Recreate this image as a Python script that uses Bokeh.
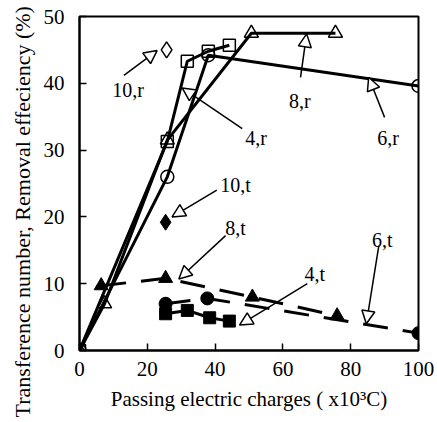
from bokeh.plotting import figure
from bokeh.models import Arrow, NormalHead, Title, LabelSet, FixedTicker, ColumnDataSource, Range1d
from bokeh.embed import file_html
from bokeh.resources import INLINE

# Removal efficiency (open markers)
r4_x = [0, 25.9, 31.8, 38.0, 44.2]
r4_y = [0, 31.3, 43.3, 44.8, 45.7]
r6_x = [0, 25.9, 38.0, 100]
r6_y = [0, 26.0, 44.2, 39.6]
r8_x = [0, 7.4, 25.9, 50.7, 75.5]
r8_y = [0, 7.0, 31.5, 47.5, 47.5]
r10_x = [25.7]
r10_y = [45.0]

# Transference number (filled markers)
t4_x = [25.4, 31.8, 38.4, 44.2]
t4_y = [5.5, 6.0, 4.9, 4.4]
t6_x = [25.4, 37.7, 100]
t6_y = [7.0, 7.8, 2.6]
t8_x = [6.4, 25.4, 51.0, 76.0]
t8_y = [9.7, 10.8, 8.0, 5.2]
t10_x = [25.4]
t10_y = [19.2]

# Annotation labels and arrows
ann_text = ["10,r", "4,r", "8,r", "6,r", "10,t", "8,t", "4,t", "6,t"]
ann_x = [14.3, 52.1, 65.0, 91.0, 46.0, 46.0, 69.4, 89.3]
ann_y = [39.0, 31.8, 37.4, 31.8, 24.8, 18.3, 11.5, 16.6]
arr_x0 = [13.1, 48.0, 65.2, 90.0, 40.5, 43.1, 67.2, 88.3]
arr_y0 = [41.2, 33.2, 40.9, 34.9, 24.0, 17.2, 10.0, 15.7]
arr_x1 = [22.9, 30.3, 67.0, 85.3, 27.3, 29.3, 47.2, 84.6]
arr_y1 = [44.9, 39.3, 47.4, 40.9, 20.0, 10.7, 3.8, 4.0]

x_ticks = [0, 20, 40, 60, 80, 100]
y_ticks = [0, 10, 20, 30, 40, 50]

FONT = "Liberation Serif"

p = figure(width=437, height=422, output_backend="svg", toolbar_location=None,
           x_range=Range1d(0, 100), y_range=Range1d(0, 50),
           min_border_left=79, min_border_right=19, min_border_top=16, min_border_bottom=72)
p.background_fill_color = "white"
p.border_fill_color = "white"
p.outline_line_color = "black"
p.outline_line_width = 2
p.xgrid.visible = False
p.ygrid.visible = False

for ax in (p.xaxis, p.yaxis):
    ax.axis_line_width = 2
    ax.axis_line_color = "black"
    ax.major_tick_in = 7
    ax.major_tick_out = 0
    ax.major_tick_line_width = 1.5
    ax.minor_tick_line_color = None
    ax.major_label_text_font = FONT
    ax.major_label_text_font_size = "21px"
    ax.major_label_text_color = "black"
    ax.axis_label_text_font = FONT
    ax.axis_label_text_font_size = "21px"
    ax.axis_label_text_font_style = "normal"
    ax.axis_label_text_color = "black"

p.xaxis.ticker = FixedTicker(ticks=x_ticks)
p.yaxis.ticker = FixedTicker(ticks=y_ticks)
p.xaxis.major_label_standoff = 11
p.yaxis.major_label_standoff = 15
p.xaxis.axis_label = "Passing electric charges ( x10\u00b3C)"
p.xaxis.axis_label_standoff = 8

ytitle = Title(text="Transference number, Removal effeciency (%)", align="left",
               offset=-67, text_font=FONT, text_font_size="22px",
               text_font_style="normal", text_color="black", standoff=11)
p.add_layout(ytitle, "left")

LW = 3
# removal lines (solid)
p.line(r4_x, r4_y, line_color="black", line_width=LW)
p.line(r6_x, r6_y, line_color="black", line_width=LW)
p.line(r8_x, r8_y, line_color="black", line_width=LW)
# transference lines (dashed)
p.line(t4_x, t4_y, line_color="black", line_width=LW)
p.line(t6_x, t6_y, line_color="black", line_width=LW, line_dash="25 15")
p.line(t8_x, t8_y, line_color="black", line_width=LW, line_dash="25 15")

open_kw = dict(line_color="black", line_width=1.5, fill_alpha=0)
p.scatter(r4_x, r4_y, marker="square", size=12, **open_kw)
p.scatter(r6_x, r6_y, marker="circle", size=13, **open_kw)
p.scatter(r8_x, r8_y, marker="triangle", size=14, **open_kw)
p.scatter(r10_x, r10_y, marker="diamond", size=16, **open_kw)

fill_kw = dict(line_color="black", line_width=1, fill_color="black")
p.scatter(t4_x, t4_y, marker="square", size=12, **fill_kw)
p.scatter(t6_x, t6_y, marker="circle", size=13, **fill_kw)
p.scatter(t8_x, t8_y, marker="triangle", size=14, **fill_kw)
p.scatter(t10_x, t10_y, marker="diamond", size=16, **fill_kw)

arr_src = ColumnDataSource(dict(x0=arr_x0, y0=arr_y0, x1=arr_x1, y1=arr_y1))
p.add_layout(Arrow(x_start="x0", y_start="y0", x_end="x1", y_end="y1", source=arr_src,
                   line_color="black", line_width=1.5,
                   end=NormalHead(size=13, fill_color="white", line_color="black", line_width=1.5)))

lab_src = ColumnDataSource(dict(x=ann_x, y=ann_y, t=ann_text))
p.add_layout(LabelSet(x="x", y="y", text="t", source=lab_src, text_align="center",
                      text_baseline="middle", text_font=FONT, text_font_size="20px",
                      text_color="black"))

open("out.html", "w").write(file_html(p, INLINE))
